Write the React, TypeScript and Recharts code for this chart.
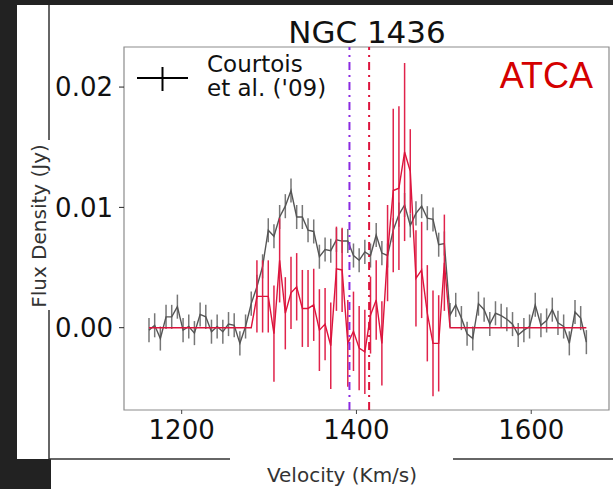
import { ComposedChart, ErrorBar, Line, ReferenceArea, ReferenceLine, XAxis, YAxis } from "recharts";

// channel velocities (km/s), shared by both spectra
const VELOCITY = [
  1162.6, 1169.1, 1175.6, 1182.1, 1188.6, 1195.1, 1201.6, 1208.1, 1214.6, 1221.1,
  1227.6, 1234.1, 1240.6, 1247.1, 1253.6, 1260.1, 1266.6, 1273.1, 1279.6, 1286.1,
  1292.6, 1299.1, 1305.6, 1312.1, 1318.6, 1325.1, 1331.6, 1338.1, 1344.6, 1351.1,
  1357.6, 1364.1, 1370.6, 1377.1, 1383.6, 1390.1, 1396.6, 1403.1, 1409.6, 1416.1,
  1422.6, 1429.1, 1435.6, 1442.1, 1448.6, 1455.1, 1461.6, 1468.1, 1474.6, 1481.1,
  1487.6, 1494.1, 1500.6, 1507.1, 1513.6, 1520.1, 1526.6, 1533.1, 1539.6, 1546.1,
  1552.6, 1559.1, 1565.6, 1572.1, 1578.6, 1585.1, 1591.6, 1598.1, 1604.6, 1611.1,
  1617.6, 1624.1, 1630.6, 1637.1, 1643.6, 1650.1, 1656.6, 1663.1,
];

// Courtois et al. ('09) single-dish spectrum (Jy)
const COURTOIS = [
  -0.0002, 0.0002, -0.0009, 0.0009, 0.0009, 0.00175, -0.0002, 0.0001, -0.00045, 0.0011,
  0.0009, -0.00033, 0.0001, -0.00033, 0.0003, 0.0002, -0.0013, 0.0001, 0.002, 0.0034,
  0.0051, 0.0081, 0.0076, 0.0092, 0.0101, 0.0114, 0.0092, 0.0092, 0.0081, 0.008,
  0.0059, 0.0065, 0.0064, 0.0073, 0.0072, 0.0072, 0.006, 0.0056, 0.0063, 0.006,
  0.0077, 0.0062, 0.006, 0.0081, 0.0094, 0.0102, 0.0085, 0.0095, 0.0101, 0.0091,
  0.009, 0.0069, 0.007, 0.00105, 0.0019, 0.0008, -0.0005, -0.0009, 0.002, 0.0015,
  0.0003, 0.0012, 0.001, 0.0007, 0.0003, -0.0006, -0.0002, 0.0001, 0.0019, 0.0002,
  0.0006, 0.0015, 0.0004, 0.0001, -0.0013, 0.0013, 0.0008, -0.0012,
];
const COURTOIS_ERR = 0.001;

// ATCA spectrum (Jy), zero outside the line window
const ATCA = [
  0, 0, 0, 0, 0, 0, 0, 0, 0, 0,
  0, 0, 0, 0, 0, 0, 0, 0, 0, 0.0026,
  0.0026, 0.0026, -0.0005, 0.0056, 0.0012, 0.0029, 0.0034, 0.0016, 0.0016, 0.0019,
  -0.0002, 0.0003, -0.0015, 0.0049, 0.0048, -0.0013, -0.0003, -0.0017, -0.002, 0.00105,
  0.0023, -0.0013, 0.0062, 0.0114, 0.0116, 0.0146, 0.013, 0.0041, 0.0048, 0.0012,
  -0.0013, -0.0013, 0.0054, 0, 0, 0, 0, 0, 0, 0,
  0, 0, 0, 0, 0, 0, 0, 0, 0, 0,
  0, 0, 0, 0, 0, 0, 0, 0,
];
const ATCA_ERR = [
  0, 0, 0, 0, 0, 0, 0, 0, 0, 0,
  0, 0, 0, 0, 0, 0, 0, 0, 0, 0.0030,
  0.0030, 0.0030, 0.0040, 0.0035, 0.0030, 0.0030, 0.0028, 0.0032, 0.0032, 0.0030,
  0.0034, 0.0030, 0.0036, 0.0035, 0.0035, 0.0036, 0.0033, 0.0035, 0.0035, 0.0032,
  0.0033, 0.0035, 0.0040, 0.0068, 0.0068, 0.0074, 0.0035, 0.0040, 0.0040, 0.0040,
  0.0044, 0.0040, 0.0040, 0, 0, 0, 0, 0, 0, 0,
  0, 0, 0, 0, 0, 0, 0, 0, 0, 0,
  0, 0, 0, 0, 0, 0, 0, 0,
];

const X_DOMAIN: [number, number] = [1134, 1689];
const Y_DOMAIN: [number, number] = [-0.00684, 0.02333];
const X_TICKS = [1200, 1400, 1600];
const Y_TICKS = [0, 0.01, 0.02];
const V_OPTICAL = 1392;
const V_HI = 1414.5;

const FONT = "'DejaVu Sans', sans-serif";

const rows = VELOCITY.map((v, i) => ({
  v,
  courtois: COURTOIS[i],
  courtoisErr: COURTOIS_ERR,
  atca: ATCA[i],
  atcaErr: ATCA_ERR[i],
}));

export default function App() {
  return (
    <div style={{ position: "fixed", left: 0, top: 0, width: 613, height: 489, background: "#222", overflow: "hidden" }}>
      {/* page frame behind the figure */}
      <svg width={613} height={489} style={{ position: "absolute", left: 0, top: 0 }}>
        <rect x={17} y={5} width={596} height={454} fill="#fff" />
        <rect x={51} y={459} width={562} height={30} fill="#fff" />
        <line x1={49} y1={5} x2={49} y2={459} stroke="#333" strokeWidth={1.5} />
        <line x1={49} y1={459} x2={613} y2={459} stroke="#333" strokeWidth={1.5} />
        <rect x={17} y={140} width={36} height={170} fill="#fff" />
        <rect x={230} y={452} width={223} height={37} fill="#fff" />
        <text x={46} y={226} transform="rotate(-90 46 226)" textAnchor="middle" fontFamily={FONT} fontSize={20} fill="#333">
          Flux Density (Jy)
        </text>
        <text x={342} y={482} textAnchor="middle" fontFamily={FONT} fontSize={20} fill="#333">
          Velocity (Km/s)
        </text>
        <text x={367} y={43} textAnchor="middle" fontFamily={FONT} fontSize={31} fill="#111">
          NGC 1436
        </text>
      </svg>

      <div style={{ position: "absolute", left: 0, top: 0 }}>
        <ComposedChart width={613} height={489} data={rows} margin={{ top: 47, right: 4, bottom: 49, left: 0 }}>
          <XAxis
            dataKey="v"
            type="number"
            domain={X_DOMAIN}
            ticks={X_TICKS}
            allowDataOverflow
            height={30}
            axisLine={false}
            tickLine={{ stroke: "#444" }}
            tickSize={4}
            tickMargin={7}
            tick={{ fontFamily: FONT, fontSize: 26, fill: "#111" }}
          />
          <YAxis
            type="number"
            domain={Y_DOMAIN}
            ticks={Y_TICKS}
            allowDataOverflow
            width={124}
            axisLine={false}
            tickLine={{ stroke: "#222" }}
            tickSize={5}
            tickMargin={6}
            tickFormatter={(t: number) => t.toFixed(2)}
            tick={{ fontFamily: FONT, fontSize: 26, fill: "#111" }}
          />
          <ReferenceArea
            x1={X_DOMAIN[0]}
            x2={X_DOMAIN[1]}
            y1={Y_DOMAIN[0]}
            y2={Y_DOMAIN[1]}
            fill="none"
            stroke="#8c8c8c"
            strokeWidth={1.2}
          />
          <Line
            dataKey="courtois"
            stroke="#555"
            strokeWidth={1.4}
            dot={false}
            activeDot={false}
            isAnimationActive={false}
          >
            <ErrorBar dataKey="courtoisErr" direction="y" width={0} stroke="#777" strokeWidth={1.5} />
          </Line>
          <Line
            dataKey="atca"
            stroke="#dc143c"
            strokeWidth={1.4}
            dot={false}
            activeDot={false}
            isAnimationActive={false}
          >
            <ErrorBar dataKey="atcaErr" direction="y" width={0} stroke="#e0234b" strokeWidth={1.5} />
          </Line>
          <ReferenceLine x={V_OPTICAL} stroke="#8a2be2" strokeWidth={2} strokeDasharray="8 5 2 5" />
          <ReferenceLine x={V_HI} stroke="#dc143c" strokeWidth={2} strokeDasharray="8 5 2 5" />
        </ComposedChart>
      </div>

      {/* legend and annotation */}
      <svg width={613} height={489} style={{ position: "absolute", left: 0, top: 0, pointerEvents: "none" }}>
        <line x1={137} y1={78} x2={188} y2={78} stroke="#000" strokeWidth={2} />
        <line x1={162.5} y1={67} x2={162.5} y2={91} stroke="#000" strokeWidth={2} />
        <text x={207} y={72} fontFamily={FONT} fontSize={23} fill="#111">Courtois</text>
        <text x={207} y={96} fontFamily={FONT} fontSize={23} fill="#111">et al. ('09)</text>
        <text x={593} y={88} textAnchor="end" fontFamily="'Liberation Sans', Arial, sans-serif" fontSize={36} fill="#d40000">
          ATCA
        </text>
      </svg>
    </div>
  );
}
